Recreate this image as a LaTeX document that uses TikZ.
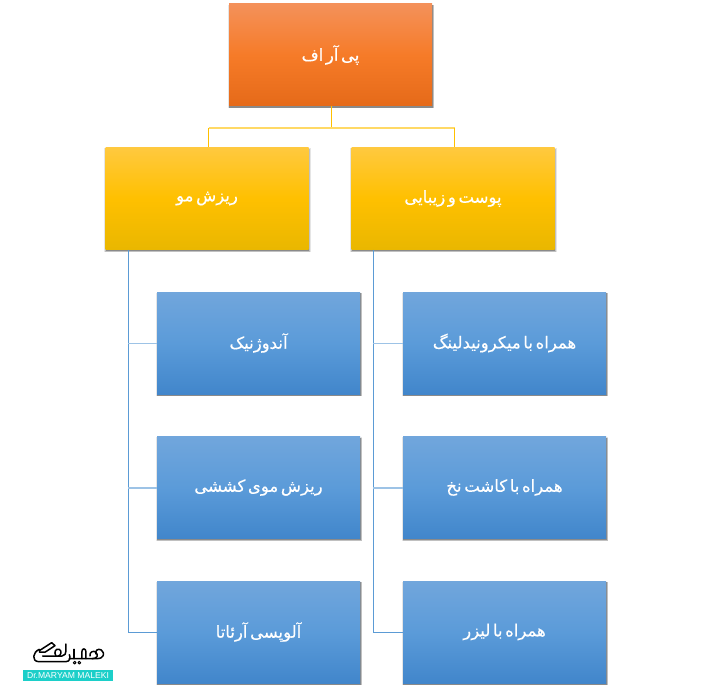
\documentclass[tikz,border=0pt]{standalone}
\usepackage{fontspec}
\usetikzlibrary{shadows,calc}
\TeXXeTstate=1
\newfontfamily\fa[Script=Arabic,FakeBold=0.35,WordSpace=0.5]{DejaVu Sans}
\definecolor{orA}{HTML}{F4915A}\definecolor{orB}{HTML}{F67B28}\definecolor{orC}{HTML}{E56A19}
\definecolor{yeA}{HTML}{FFC93F}\definecolor{yeB}{HTML}{FFC000}\definecolor{yeC}{HTML}{E9B700}
\definecolor{blA}{HTML}{71A6DC}\definecolor{blB}{HTML}{5B9BD9}\definecolor{blC}{HTML}{4186CB}
\definecolor{yeLine}{HTML}{FFC000}\definecolor{yeLight}{HTML}{FFD966}
\definecolor{blLine}{HTML}{5B9BD5}\definecolor{blLight}{HTML}{9DC3E6}
\definecolor{teal}{HTML}{1CCFC9}
\tikzset{
 x=1pt,y=-1pt,
 softshadow/.style={
   general shadow={shadow xshift=.6pt,shadow yshift=-1.5pt,shadow scale=1.018,opacity=.10,fill=black},
   general shadow={shadow xshift=.6pt,shadow yshift=-1.5pt,shadow scale=1.01,opacity=.16,fill=black},
   general shadow={shadow xshift=.5pt,shadow yshift=-1.5pt,shadow scale=1.002,opacity=.28,fill=black}},
 boxbase/.style={rectangle,inner sep=0pt,minimum width=203pt,minimum height=102pt,text=white,
   font=\fa\fontsize{16.5}{18}\selectfont,softshadow},
 orbox/.style={boxbase,top color=orA,bottom color=orC,middle color=orB},
 yebox/.style={boxbase,top color=yeA,bottom color=yeC,middle color=yeB},
 blbox/.style={boxbase,top color=blA,bottom color=blC,middle color=blB},
 yev/.style={draw=yeLine,line width=1pt},
 yeh/.style={draw=yeLight,line width=1.2pt},
 blv/.style={draw=blLine,line width=1pt},
 blh/.style={draw=blLight,line width=1.2pt},
 logoline/.style={draw=black,line width=1.5pt,line cap=round,line join=round},
}
\begin{document}
\begin{tikzpicture}
\path[fill=white] (0,0) rectangle (712,690);
\useasboundingbox (0,0) rectangle (712,690);
% junctions
\coordinate (jm) at (331,128);
\coordinate (jl) at (208.5,128);
\coordinate (jr) at (454.5,128);
\coordinate (lb) at (128,249);
\coordinate (rb) at (373,249);
\coordinate (l1) at (128,343.5);
\coordinate (l2) at (128,488);
\coordinate (l3) at (128,632);
\coordinate (r1) at (373,343.5);
\coordinate (r2) at (373,488);
\coordinate (r3) at (373,632);
% boxes
\node[orbox] (root) at (330.5,55) {\raisebox{1pt}{\beginR پی آر اف\endR}};
\node[yebox] (hair) at (207,198.5) {\raisebox{1pt}{\beginR ریزش مو\endR}};
\node[yebox] (skin) at (453,198.5) {\raisebox{1pt}{\beginR پوست و زیبایی\endR}};
\node[blbox] (a1) at (258.5,343) {\raisebox{1pt}{\beginR آندوژنیک\endR}};
\node[blbox] (a2) at (258.5,487.5) {\raisebox{1pt}{\beginR ریزش موی کششی\endR}};
\node[blbox] (a3) at (258.5,632) {\raisebox{1pt}{\beginR آلوپسی آرئاتا\endR}};
\node[blbox] (b1) at (504.5,343) {\raisebox{1pt}{\beginR همراه با میکرونیدلینگ\endR}};
\node[blbox] (b2) at (504.5,487.5) {\raisebox{1pt}{\beginR همراه با کاشت نخ\endR}};
\node[blbox] (b3) at (504.5,632) {\raisebox{1pt}{\beginR همراه با لیزر\endR}};
% connectors
\draw[yev] (root.south -| jm) -- (jm);
\draw[yeh] (jl) -- (jr);
\draw[yev] (jl) -- (jl |- hair.north);
\draw[yev] (jr) -- (jr |- skin.north);
\draw[blv] (hair.south -| lb) -- (l3);
\draw[blv] (skin.south -| rb) -- (r3);
\draw[blh] (l1) -- (a1.west |- l1);
\draw[blh] (l2) -- (a2.west |- l2);
\draw[blv] (l3) -- (a3.west |- l3);
\draw[blh] (r1) -- (b1.west |- r1);
\draw[blh] (r2) -- (b2.west |- r2);
\draw[blv] (r3) -- (b3.west |- r3);
% logo mark (drawn)
\begin{scope}[shift={(0,620)},x=0.3333pt,y=-0.3333pt,logoline]
\draw (118,88) .. controls (98,96) and (94,124) .. (116,125) -- (198,125) .. controls (210,125) and (212,112) .. (208,104);
\draw (118,92) -- (155,68) -- (165,77) -- (136,96) -- (118,96);
\draw (128,108) -- (186,108) .. controls (195,108) and (198,100) .. (198,92) -- (198,72);
\draw (168,108) .. controls (160,96) and (168,84) .. (178,88) .. controls (186,92) and (184,108) .. (174,108);
\draw (208,116) -- (276,116) .. controls (292,116) and (296,106) .. (288,97) .. controls (280,90) and (268,96) .. (270,108);
\draw (222,116) -- (222,88);
\draw (246,116) -- (246,94) .. controls (246,84) and (258,84) .. (258,96) -- (258,116);
\draw (276,116) -- (290,116) .. controls (312,116) and (316,100) .. (304,90) .. controls (294,84) and (284,92) .. (288,102);
\draw[line width=1pt] (224,128) circle (4);
\draw[line width=1pt] (238,128) circle (4);
\end{scope}
\node[fill=teal,inner sep=0pt,minimum width=90pt,minimum height=11pt,text=white,font=\fontspec{Liberation Sans}\fontsize{8.6}{9}\selectfont] (tag) at (68,675.5) {Dr.MARYAM MALEKI};
\end{tikzpicture}
\end{document}
